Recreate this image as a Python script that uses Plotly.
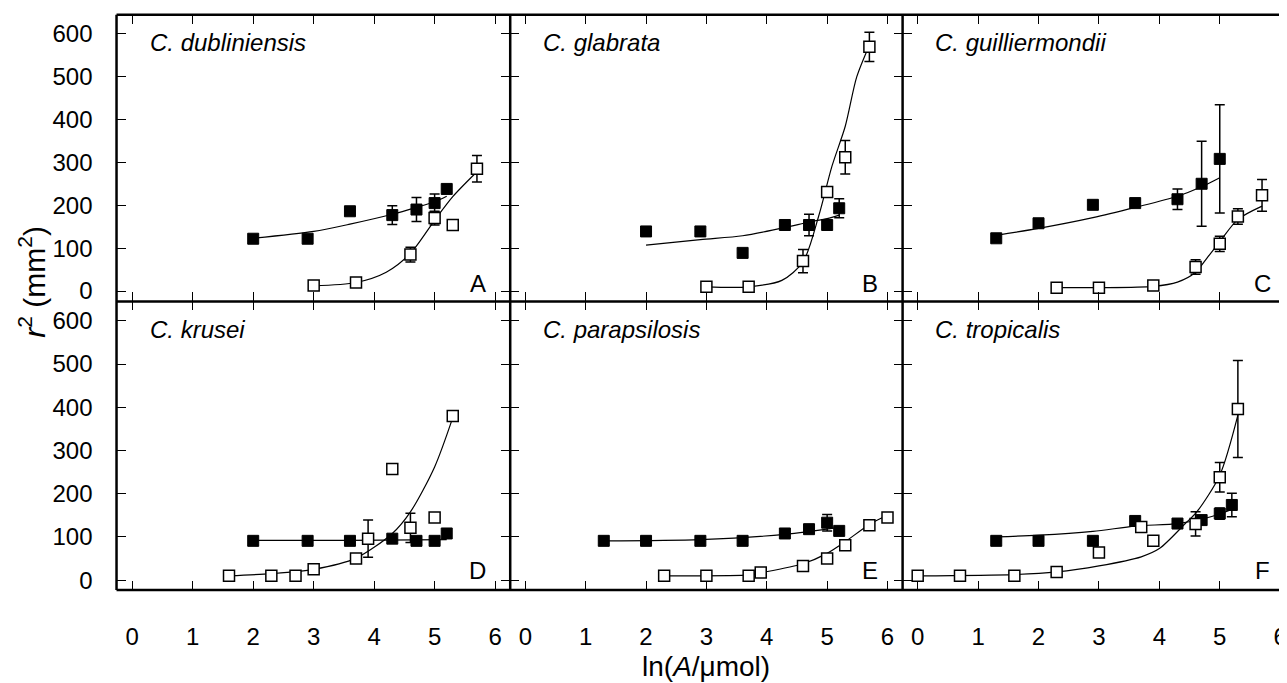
import plotly.graph_objects as go

# ---------------- data ----------------
species = ["C. dubliniensis", "C. glabrata", "C. guilliermondii",
           "C. krusei", "C. parapsilosis", "C. tropicalis"]
letters = ["A", "B", "C", "D", "E", "F"]

# Panel A
a_f_x = [2.0, 2.9, 3.6, 4.3, 4.7, 5.0, 5.2]
a_f_y = [122, 122, 186, 177, 190, 205, 238]
a_f_e = [0, 0, 0, 22, 28, 21, 0]
a_fc_x = [2.0, 3.0, 3.6, 4.3, 4.7, 5.0, 5.2]
a_fc_y = [123, 139, 156, 179, 195, 208, 221]
a_o_x = [3.0, 3.7, 4.6, 5.0, 5.3, 5.7]
a_o_y = [13, 20, 85, 170, 154, 285]
a_o_e = [0, 0, 17, 16, 0, 31]
a_oc_x = [3.0, 3.7, 4.2, 4.6, 5.0, 5.3, 5.7]
a_oc_y = [12, 20, 44, 88, 165, 220, 278]

# Panel B
b_f_x = [2.0, 2.9, 3.6, 4.3, 4.7, 5.0, 5.2]
b_f_y = [139, 139, 89, 154, 154, 154, 193]
b_f_e = [0, 0, 0, 10, 25, 12, 22]
b_fc_x = [2.0, 2.9, 3.6, 4.3, 4.7, 5.0, 5.2]
b_fc_y = [107, 120, 129, 148, 161, 169, 177]
b_o_x = [3.0, 3.7, 4.6, 5.0, 5.3, 5.7]
b_o_y = [10, 10, 70, 231, 312, 569]
b_o_e = [0, 0, 27, 0, 39, 34]
b_oc_x = [3.0, 3.7, 4.25, 4.6, 4.86, 5.08, 5.3, 5.49, 5.7]
b_oc_y = [10, 10, 25, 68, 175, 291, 384, 499, 573]

# Panel C
c_f_x = [1.3, 2.0, 2.9, 3.6, 4.3, 4.7, 5.0]
c_f_y = [123, 158, 201, 205, 214, 250, 308]
c_f_e = [0, 0, 0, 0, 24, 99, 126]
c_fc_x = [1.3, 2.0, 2.9, 3.6, 4.3, 4.7, 5.0]
c_fc_y = [130, 146, 171, 195, 221, 243, 264]
c_o_x = [2.3, 3.0, 3.9, 4.6, 5.0, 5.3, 5.7]
c_o_y = [8, 8, 13, 56, 110, 174, 223]
c_o_e = [0, 0, 0, 17, 18, 18, 37]
c_oc_x = [2.3, 3.0, 3.9, 4.3, 4.6, 4.8, 5.0, 5.3, 5.7]
c_oc_y = [8, 8, 11, 21, 44, 79, 115, 167, 198]

# Panel D
d_f_x = [2.0, 2.9, 3.6, 4.3, 4.7, 5.0, 5.2]
d_f_y = [91, 91, 91, 96, 91, 91, 108]
d_f_e = [0, 0, 0, 0, 0, 0, 0]
d_fc_x = [2.0, 3.6, 5.2]
d_fc_y = [92, 92, 94]
d_o_x = [1.6, 2.3, 2.7, 3.0, 3.7, 3.9, 4.3, 4.6, 5.0, 5.3]
d_o_y = [10, 10, 10, 25, 50, 96, 257, 121, 145, 380]
d_o_e = [0, 0, 0, 0, 0, 43, 0, 34, 10, 0]
d_oc_x = [1.6, 2.3, 3.0, 3.7, 4.3, 4.6, 5.0, 5.3]
d_oc_y = [10, 15, 25, 51, 108, 158, 262, 376]

# Panel E
e_f_x = [1.3, 2.0, 2.9, 3.6, 4.3, 4.7, 5.0, 5.2]
e_f_y = [91, 91, 91, 91, 108, 118, 133, 114]
e_f_e = [0, 0, 0, 0, 0, 0, 19, 0]
e_fc_x = [1.3, 2.9, 4.3, 5.2]
e_fc_y = [91, 94, 106, 122]
e_o_x = [2.3, 3.0, 3.7, 3.9, 4.6, 5.0, 5.3, 5.7, 6.0]
e_o_y = [10, 10, 10, 18, 33, 50, 81, 127, 145]
e_o_e = [0, 0, 0, 0, 0, 0, 0, 0, 0]
e_oc_x = [2.3, 3.7, 3.9, 4.6, 5.0, 5.3, 5.7, 6.0]
e_oc_y = [10, 12, 17, 38, 62, 89, 129, 150]

# Panel F
f_f_x = [1.3, 2.0, 2.9, 3.6, 4.3, 4.7, 5.0, 5.2]
f_f_y = [91, 91, 91, 137, 131, 139, 154, 174]
f_f_e = [0, 0, 0, 0, 0, 0, 13, 27]
f_fc_x = [1.3, 2.0, 2.9, 3.6, 4.3, 4.7, 5.0, 5.2]
f_fc_y = [100, 104, 113, 125, 131, 141, 153, 164]
f_o_x = [0.0, 0.7, 1.6, 2.3, 3.0, 3.7, 3.9, 4.6, 5.0, 5.3]
f_o_y = [10, 10, 10, 19, 64, 123, 91, 130, 238, 396]
f_o_e = [0, 0, 0, 0, 0, 0, 0, 28, 34, 112]
f_oc_x = [0.0, 1.6, 2.3, 3.0, 3.7, 4.0, 4.43, 4.62, 5.0, 5.3]
f_oc_y = [10, 13, 19, 33, 54, 73, 131, 158, 243, 382]

x_ticks = [0, 1, 2, 3, 4, 5, 6]
y_ticks = [0, 100, 200, 300, 400, 500, 600]

panels = [
    (a_f_x, a_f_y, a_f_e, a_fc_x, a_fc_y, a_o_x, a_o_y, a_o_e, a_oc_x, a_oc_y),
    (b_f_x, b_f_y, b_f_e, b_fc_x, b_fc_y, b_o_x, b_o_y, b_o_e, b_oc_x, b_oc_y),
    (c_f_x, c_f_y, c_f_e, c_fc_x, c_fc_y, c_o_x, c_o_y, c_o_e, c_oc_x, c_oc_y),
    (d_f_x, d_f_y, d_f_e, d_fc_x, d_fc_y, d_o_x, d_o_y, d_o_e, d_oc_x, d_oc_y),
    (e_f_x, e_f_y, e_f_e, e_fc_x, e_fc_y, e_o_x, e_o_y, e_o_e, e_oc_x, e_oc_y),
    (f_f_x, f_f_y, f_f_e, f_fc_x, f_fc_y, f_o_x, f_o_y, f_o_e, f_oc_x, f_oc_y),
]

# ---------------- layout geometry ----------------
# The page body has an 8px margin, so the figure is drawn 8px in from the
# window's top-left corner; positions below are window pixels minus 8.
OFF = 8
W, H = 1287 - OFF, 683 - OFF


def px_x(v):
    return (v - OFF) / W


def px_y(v):
    return 1 - (v - OFF) / H


X_L, X_1, X_2 = 116.7, 511, 904
Y_T, Y_M, Y_B = 14.7, 302.7, 592.7
col_dom = [[px_x(X_L), px_x(X_1)], [px_x(X_1), px_x(X_2)], [px_x(X_2), 1.0]]
row_dom = [[px_y(Y_M), px_y(Y_T)], [px_y(Y_B), px_y(Y_M)]]
x_ranges = [[-0.26, 6.25], [-0.25, 6.25], [-0.25, 6.08]]
y_ranges = [[-24, 644], [-23, 645]]

FONT = "Liberation Sans, Arial, sans-serif"

fig = go.Figure()
layout = dict(
    width=W, height=H, margin=dict(l=0, r=0, t=0, b=0),
    paper_bgcolor="white", plot_bgcolor="white", showlegend=False,
    font=dict(family=FONT, color="black", size=24),
)

annotations = []
for i, p in enumerate(panels):
    r, c = divmod(i, 3)
    n = i + 1
    xa = "x" if n == 1 else f"x{n}"
    ya = "y" if n == 1 else f"y{n}"
    fx, fy, fe, fcx, fcy, ox, oy, oe, ocx, ocy = p
    line = dict(color="black", width=1.2, shape="spline", smoothing=0.8)
    fig.add_trace(go.Scatter(x=fcx, y=fcy, mode="lines", line=line,
                             xaxis=xa, yaxis=ya, hoverinfo="skip"))
    fig.add_trace(go.Scatter(x=ocx, y=ocy, mode="lines", line=line,
                             xaxis=xa, yaxis=ya, hoverinfo="skip"))
    eb = dict(type="data", visible=True, thickness=1.5, width=5, color="black")
    fig.add_trace(go.Scatter(
        x=fx, y=fy, mode="markers", xaxis=xa, yaxis=ya,
        marker=dict(symbol="square", size=11, color="black",
                    line=dict(color="black", width=1)),
        error_y=dict(array=fe, **eb)))
    fig.add_trace(go.Scatter(
        x=ox, y=oy, mode="markers", xaxis=xa, yaxis=ya,
        marker=dict(symbol="square", size=11, color="white",
                    line=dict(color="black", width=1.5)),
        error_y=dict(array=oe, **eb)))

    xkey = "xaxis" if n == 1 else f"xaxis{n}"
    ykey = "yaxis" if n == 1 else f"yaxis{n}"
    layout[xkey] = dict(
        domain=col_dom[c], anchor=ya, range=x_ranges[c],
        tickvals=x_ticks, ticktext=[str(v) for v in x_ticks],
        ticks="inside", ticklen=9, tickwidth=1, tickcolor="black",
        showline=False, mirror="ticks",
        showgrid=False, zeroline=False,
        showticklabels=(r == 1), ticklabelstandoff=30,
        ticklabeloverflow="allow",
        tickfont=dict(family=FONT, size=24, color="black"),
    )
    layout[ykey] = dict(
        domain=row_dom[r], anchor=xa, range=y_ranges[r],
        tickvals=y_ticks, ticktext=[str(v) for v in y_ticks],
        ticks="inside", ticklen=9, tickwidth=1, tickcolor="black",
        showline=False, mirror=("ticks" if c < 2 else False),
        showgrid=False, zeroline=False,
        showticklabels=(c == 0), ticklabelstandoff=23,
        tickfont=dict(family=FONT, size=24, color="black"),
    )
    annotations.append(dict(
        text=f"<i>{species[i]}</i>", xref=xa, yref=ya, x=0.26, y=580,
        xanchor="left", yanchor="middle", showarrow=False,
        font=dict(family=FONT, size=24, color="black")))
    annotations.append(dict(
        text=letters[i], xref=xa, yref=ya, x=5.71, y=(17 if r == 0 else 22),
        xanchor="center", yanchor="middle", showarrow=False,
        font=dict(family=FONT, size=24, color="black")))

annotations.append(dict(
    text="<i>r</i><sup>2</sup> (mm<sup>2</sup>)", xref="paper", yref="paper",
    x=px_x(32), y=px_y(283), xanchor="center", yanchor="middle",
    textangle=-90, showarrow=False,
    font=dict(family=FONT, size=30, color="black")))
annotations.append(dict(
    text="ln(<i>A</i>/\u03bcmol)", xref="paper", yref="paper",
    x=px_x(707), y=px_y(669), xanchor="center", yanchor="middle",
    showarrow=False, font=dict(family=FONT, size=28, color="black")))

# panel frame (uniform thickness on outer edges and dividers)
fl = dict(color="black", width=2.5)
shapes = [
    dict(type="line", xref="paper", yref="paper", x0=px_x(X_L), x1=1.01,
         y0=px_y(Y_T), y1=px_y(Y_T), line=fl),
    dict(type="line", xref="paper", yref="paper", x0=px_x(X_L), x1=1.01,
         y0=px_y(Y_M), y1=px_y(Y_M), line=fl),
    dict(type="line", xref="paper", yref="paper", x0=px_x(X_L), x1=1.01,
         y0=px_y(Y_B), y1=px_y(Y_B), line=fl),
]
for xv in (X_L, X_1, X_2):
    shapes.append(dict(type="line", xref="paper", yref="paper",
                       x0=px_x(xv), x1=px_x(xv), y0=px_y(Y_B), y1=px_y(Y_T),
                       line=fl))

layout["annotations"] = annotations
layout["shapes"] = shapes
fig.update_layout(**layout)
fig.write_html("out.html")
